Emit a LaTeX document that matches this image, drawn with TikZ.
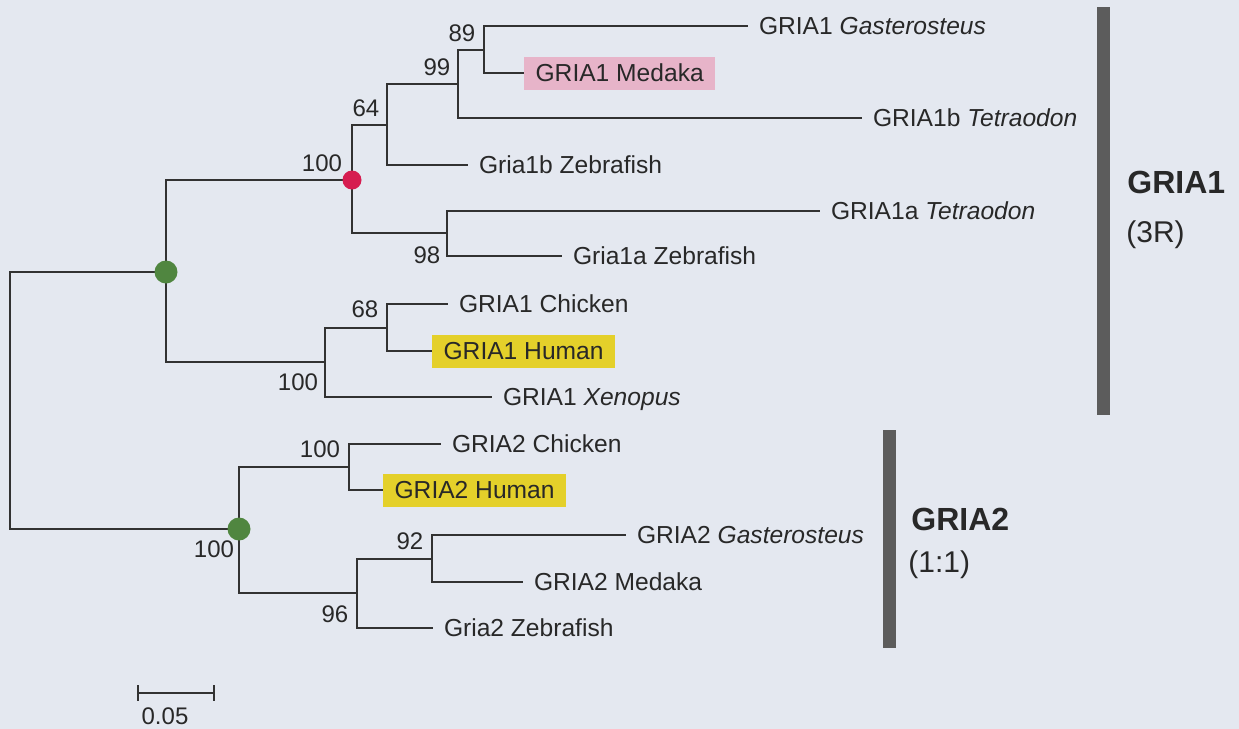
\documentclass[tikz,border=0pt]{standalone}
\usepackage{fontspec}
\setmainfont{Liberation Sans}
\definecolor{bgc}{RGB}{228,232,240}
\definecolor{linec}{RGB}{50,50,50}
\definecolor{textc}{RGB}{40,40,40}
\definecolor{pinkc}{RGB}{231,180,201}
\definecolor{yelc}{RGB}{228,208,42}
\definecolor{redc}{RGB}{214,28,80}
\definecolor{grnc}{RGB}{80,134,64}
\definecolor{barc}{RGB}{92,92,92}
\begin{document}
\begin{tikzpicture}[x=0.5pt,y=-0.5pt,
  br/.style={draw=linec, line width=1pt},
  leaf/.style={anchor=west, inner xsep=5.5pt, inner ysep=0pt, outer sep=0pt,
    text height=8.8pt, text depth=0pt, text=textc,
    font=\fontsize{12.3}{14}\selectfont},
  hl/.style={leaf, inner xsep=5.8pt, minimum height=16.5pt},
  bs/.style={inner sep=0pt, text=textc, font=\fontsize{12}{14}\selectfont},
  grp/.style={anchor=base west, inner sep=0pt, text=textc, font=\fontsize{16}{18}\bfseries\selectfont},
  grpsub/.style={anchor=base west, inner sep=0pt, text=textc, font=\fontsize{15}{18}\selectfont},
  rdot/.style={circle, fill=redc, inner sep=0pt, minimum size=9.5pt},
  gdot/.style={circle, fill=grnc, inner sep=0pt, minimum size=11.5pt},
  gbar/.style={fill=barc}]
\fill[bgc] (0,0) rectangle (1239,729);
\useasboundingbox (0,0) rectangle (1239,729);

% internal nodes
\coordinate (root) at (10,400);
\coordinate (g1) at (166,272);
\coordinate (g2) at (239,529);
\coordinate (r) at (352,180);
\coordinate (n64) at (387,125);
\coordinate (n99) at (458,84);
\coordinate (n89) at (484,50);
\coordinate (n98) at (447,233);
\coordinate (n100c) at (325,362);
\coordinate (n68) at (387,328);
\coordinate (n100b) at (349,467);
\coordinate (n96) at (357,593);
\coordinate (n92) at (432,559);

% leaves
\node[leaf] (L1) at (748,26) {GRIA1 \textit{Gasterosteus}};
\node[hl, fill=pinkc] (L2) at (524,73) {GRIA1 Medaka};
\node[leaf] (L3) at (862,118) {GRIA1b \textit{Tetraodon}};
\node[leaf] (L4) at (468,165) {Gria1b Zebrafish};
\node[leaf] (L5) at (820,211) {GRIA1a \textit{Tetraodon}};
\node[leaf] (L6) at (562,256) {Gria1a Zebrafish};
\node[leaf] (L7) at (448,304) {GRIA1 Chicken};
\node[hl, fill=yelc] (L8) at (432,351) {GRIA1 Human};
\node[leaf] (L9) at (492,397) {GRIA1 \textit{Xenopus}};
\node[leaf] (L10) at (441,444) {GRIA2 Chicken};
\node[hl, fill=yelc] (L11) at (383,490) {GRIA2 Human};
\node[leaf] (L12) at (626,535) {GRIA2 \textit{Gasterosteus}};
\node[leaf] (L13) at (523,582) {GRIA2 Medaka};
\node[leaf] (L14) at (433,628) {Gria2 Zebrafish};

% branches
\draw[br] (root) |- (g1);
\draw[br] (root) |- (g2);
\draw[br] (g1) |- (r);
\draw[br] (g1) |- (n100c);
\draw[br] (r) |- (n64);
\draw[br] (r) |- (n98);
\draw[br] (n64) |- (n99);
\draw[br] (n64) |- (L4.west);
\draw[br] (n99) |- (n89);
\draw[br] (n99) |- (L3.west);
\draw[br] (n89) |- (L1.west);
\draw[br] (n89) |- (L2.west);
\draw[br] (n98) |- (L5.west);
\draw[br] (n98) |- (L6.west);
\draw[br] (n100c) |- (n68);
\draw[br] (n100c) |- (L9.west);
\draw[br] (n68) |- (L7.west);
\draw[br] (n68) |- (L8.west);
\draw[br] (g2) |- (n100b);
\draw[br] (g2) |- (n96);
\draw[br] (n100b) |- (L10.west);
\draw[br] (n100b) |- (L11.west);
\draw[br] (n96) |- (n92);
\draw[br] (n96) |- (L14.west);
\draw[br] (n92) |- (L12.west);
\draw[br] (n92) |- (L13.west);

% dots
\node[gdot] (g1dot) at (g1) {};
\node[gdot] (g2dot) at (g2) {};
\node[rdot] (rdot) at (r) {};

% bootstrap values
\node[bs] (b89) at (462,33) {89};
\node[bs] (b99) at (437,67) {99};
\node[bs] (b64) at (366,108) {64};
\node[bs] (b100r) at (322,163) {100};
\node[bs] (b98) at (427,255) {98};
\node[bs] (b68) at (365,309) {68};
\node[bs] (b100c) at (298,382) {100};
\node[bs] (b100b) at (320,449) {100};
\node[bs] (b100g) at (214,549) {100};
\node[bs] (b92) at (410,541) {92};
\node[bs] (b96) at (335,614) {96};

% scale bar
\coordinate (sbL) at (138,693);
\coordinate (sbR) at (214,693);
\coordinate (sbLt) at (138,685);
\coordinate (sbLb) at (138,701);
\coordinate (sbRt) at (214,685);
\coordinate (sbRb) at (214,701);
\draw[br] (sbL) -- (sbR);
\draw[br] (sbLt) -- (sbLb);
\draw[br] (sbRt) -- (sbRb);
\node[bs] (sblab) at (165,716) {0.05};

% group bars
\fill[gbar] (1097,7) rectangle (1110,415);
\fill[gbar] (883,430) rectangle (896,648);
\node[grp] (G1) at (1127,193) {GRIA1};
\node[grpsub] (G1s) at (1126,242) {(3R)};
\node[grp] (G2) at (911,530) {GRIA2};
\node[grpsub] (G2s) at (908,572) {(1:1)};
\end{tikzpicture}
\end{document}
